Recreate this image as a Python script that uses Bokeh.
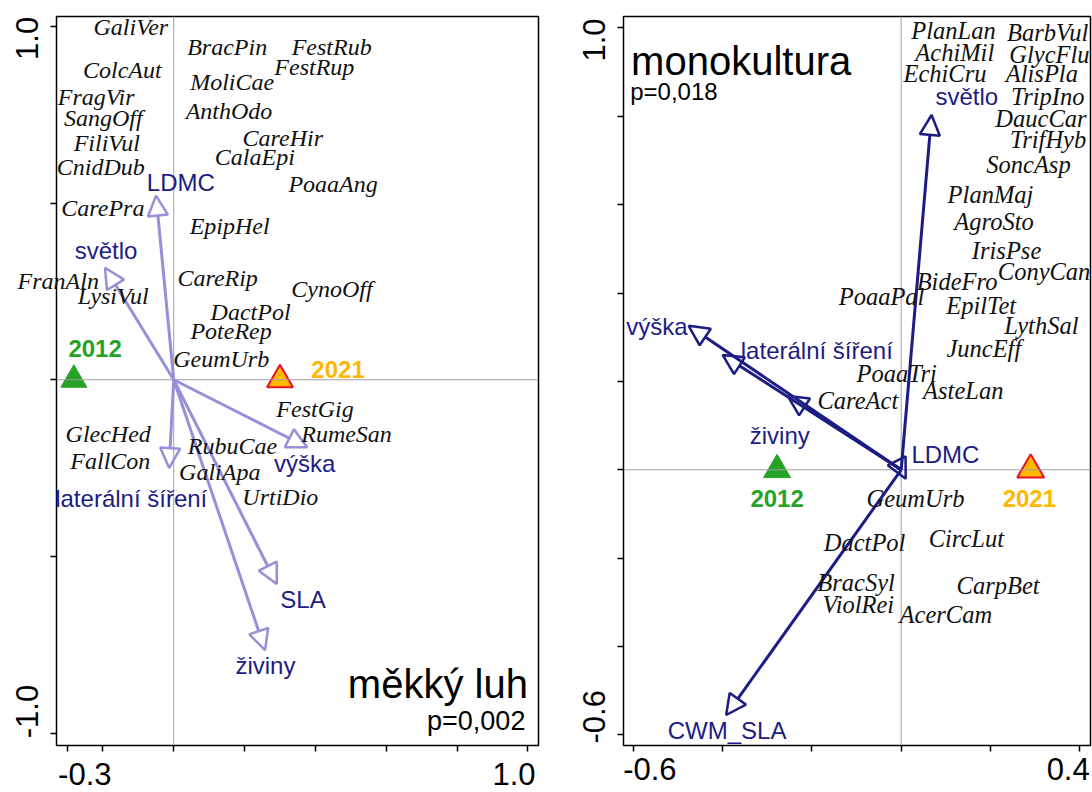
from bokeh.plotting import figure
from bokeh.models import (ColumnDataSource, Label, Arrow, NormalHead,
                          Span, FixedTicker, Range1d)
from bokeh.layouts import row
from bokeh.embed import file_html
from bokeh.resources import INLINE
from bokeh.core.properties import value

# ---------------- Left panel: "měkký luh" ----------------
L_species = ["GaliVer", "BracPin", "FestRub", "FestRup", "ColcAut", "MoliCae",
             "FragVir", "AnthOdo", "SangOff", "CareHir", "FiliVul", "CalaEpi",
             "CnidDub", "PoaaAng", "CarePra", "EpipHel", "CareRip", "FranAln",
             "CynoOff", "LysiVul", "DactPol", "PoteRep", "GeumUrb", "FestGig",
             "RumeSan", "GlecHed", "RubuCae", "FallCon", "GaliApa", "UrtiDio"]
L_species_x = [-0.121, 0.151, 0.446, 0.397, -0.145, 0.165,
               -0.219, 0.156, -0.199, 0.308, -0.189, 0.229,
               -0.206, 0.450, -0.200, 0.158, 0.124, -0.326,
               0.447, -0.171, 0.217, 0.162, 0.134, 0.399,
               0.488, -0.185, 0.166, -0.179, 0.130, 0.301]
L_species_y = [0.997, 0.943, 0.943, 0.886, 0.877, 0.843,
               0.801, 0.761, 0.742, 0.685, 0.671, 0.631,
               0.603, 0.554, 0.487, 0.436, 0.289, 0.280,
               0.257, 0.238, 0.192, 0.139, 0.060, -0.083,
               -0.154, -0.154, -0.187, -0.229, -0.262, -0.333]

L_traits = ["LDMC", "světlo", "laterální šíření", "výška", "SLA", "živiny"]
L_trait_x = [-0.050, -0.194, -0.013, 0.377, 0.291, 0.258]
L_trait_y = [0.521, 0.317, -0.250, -0.191, -0.578, -0.765]
L_trait_label_x = [0.020, -0.191, -0.120, 0.370, 0.365, 0.259]
L_trait_label_y = [0.558, 0.365, -0.335, -0.237, -0.623, -0.809]

L_years = ["2012", "2021"]
L_year_x = [-0.282, 0.300]
L_year_y = [0.0, 0.0]
L_year_label_x = [-0.222, 0.464]
L_year_label_y = [0.089, 0.030]

L_xticks = [-0.3, -0.2, 0.0, 0.2, 0.4, 0.6, 0.8, 1.0]
L_yticks = [-1.0, -0.5, 0.0, 0.5, 1.0]
L_xlabels = {"-0.3": -0.251, "1.0": 0.961}
L_ylabels = {"1.0": 0.966, "-1.0": -0.939}
L_title = "měkký luh"
L_pvalue = "p=0,002"

# ---------------- Right panel: "monokultura" ----------------
R_species = ["PlanLan", "BarbVul", "AchiMil", "GlycFlu", "EchiCru", "AlisPla",
             "TripIno", "DaucCar", "TrifHyb", "SoncAsp", "PlanMaj", "AgroSto",
             "IrisPse", "BideFro", "ConyCan", "PoaaPal", "EpilTet", "LythSal",
             "JuncEff", "PoaaTri", "AsteLan", "CareAct", "GeumUrb", "DactPol",
             "CircLut", "BracSyl", "CarpBet", "ViolRei", "AcerCam"]
R_species_x = [0.117, 0.328, 0.120, 0.332, 0.098, 0.315,
               0.328, 0.313, 0.329, 0.285, 0.200, 0.208,
               0.236, 0.125, 0.320, -0.044, 0.179, 0.314,
               0.185, -0.010, 0.139, -0.097, 0.032, -0.082,
               0.146, -0.101, 0.217, -0.096, 0.100]
R_species_y = [0.995, 0.990, 0.945, 0.941, 0.897, 0.897,
               0.844, 0.795, 0.747, 0.691, 0.623, 0.563,
               0.496, 0.426, 0.448, 0.393, 0.373, 0.326,
               0.275, 0.217, 0.180, 0.156, -0.065, -0.165,
               -0.155, -0.254, -0.261, -0.304, -0.327]

R_traits = ["světlo", "výška", "laterální šíření", "živiny", "LDMC", "CWM_SLA"]
R_trait_x = [0.068, -0.476, -0.400, -0.254, 0.010, -0.392]
R_trait_y = [0.803, 0.326, 0.260, 0.167, -0.020, -0.555]
R_trait_label_x = [0.147, -0.547, -0.189, -0.272, 0.099, -0.390]
R_trait_label_y = [0.844, 0.324, 0.269, 0.077, 0.035, -0.589]

R_years = ["2012", "2021"]
R_year_x = [-0.278, 0.290]
R_year_y = [0.0, 0.0]
R_year_label_x = [-0.278, 0.287]
R_year_label_y = [-0.065, -0.065]

R_xticks = [-0.6, -0.4, -0.2, 0.0, 0.2, 0.4]
R_yticks = [-0.6, -0.4, -0.2, 0.0, 0.2, 0.4, 0.6, 0.8, 1.0]
R_xlabels = {"-0.6": -0.563, "0.4": 0.374}
R_ylabels = {"1.0": 0.973, "-0.6": -0.559}
R_title = "monokultura"
R_pvalue = "p=0,018"

NAVY = "#1c1c84"
LILAC = "#9590d8"
GREEN = "#26a326"
GOLD = "#ffb700"
RED = "#e3122b"


def style_axes(p, xticks, yticks, xlabels, ylabels, xstandoff, ystandoff):
    p.xaxis.ticker = FixedTicker(ticks=list(xlabels.values()), minor_ticks=xticks)
    p.yaxis.ticker = FixedTicker(ticks=list(ylabels.values()), minor_ticks=yticks)
    p.xaxis.major_label_overrides = {v: k for k, v in xlabels.items()}
    p.yaxis.major_label_overrides = {v: k for k, v in ylabels.items()}
    for ax, so in ((p.xaxis, xstandoff), (p.yaxis, ystandoff)):
        ax.major_tick_out = 0
        ax.major_tick_in = 0
        ax.major_tick_line_color = None
        ax.minor_tick_out = 6
        ax.minor_tick_in = 0
        ax.minor_tick_line_color = "black"
        ax.minor_tick_line_width = 1.5
        ax.axis_line_color = None
        ax.major_label_text_font = "Liberation Sans"
        ax.major_label_text_font_size = "31px"
        ax.major_label_text_color = "black"
        ax.major_label_standoff = so
    p.yaxis.major_label_orientation = "vertical"
    p.xgrid.visible = False
    p.ygrid.visible = False
    p.outline_line_color = "black"
    p.outline_line_width = 1.5


def add_texts(p, xs, ys, texts, font, size, color, style="normal"):
    colors = color if isinstance(color, list) else [color] * len(texts)
    src = ColumnDataSource(dict(x=xs, y=ys, t=texts, c=colors))
    # overlay level so that labels may run past the plot box, as in the original
    p.text(x="x", y="y", text="t", source=src, text_font=value(font),
           text_font_size=value(size), text_font_style=style, text_color="c",
           text_align="center", text_baseline="middle", level="overlay")


def make_panel(width, mb_left, mb_right, mb_bottom, xr, yr,
               species, sx, sy, sp_size,
               traits, tx, ty, tlx, tly, arrow_color,
               years, yx, yy, ylx, yly, tri_size,
               xticks, yticks, xlabels, ylabels, xstandoff):
    p = figure(width=width, height=792, output_backend="svg", toolbar_location=None,
               x_range=Range1d(*xr), y_range=Range1d(*yr),
               min_border_left=mb_left, min_border_right=mb_right,
               min_border_top=16, min_border_bottom=mb_bottom,
               background_fill_color="white", border_fill_color="white")
    style_axes(p, xticks, yticks, xlabels, ylabels, xstandoff, 12)

    p.add_layout(Span(location=0, dimension="height", line_color="#a0a0a0", line_width=1))
    p.add_layout(Span(location=0, dimension="width", line_color="#a0a0a0", line_width=1))

    # arrows (trait vectors)
    asrc = ColumnDataSource(dict(x0=[0.0] * len(traits), y0=[0.0] * len(traits),
                                 x1=tx, y1=ty))
    p.add_layout(Arrow(end=NormalHead(size=20, fill_color=None, line_color=arrow_color,
                                      line_width=2.5),
                       x_start="x0", y_start="y0", x_end="x1", y_end="y1",
                       source=asrc, line_color=arrow_color, line_width=3))

    # species labels
    add_texts(p, sx, sy, species, "Liberation Serif", sp_size, "#111111", "italic")
    # trait labels
    add_texts(p, tlx, tly, traits, "Liberation Sans", "24px", NAVY)

    # sampling years (centroids)
    ysrc = ColumnDataSource(dict(x=yx, y=yy, fill=[GREEN, GOLD], line=[GREEN, RED],
                                 lw=[1.0, 2.0]))
    p.scatter(x="x", y="y", source=ysrc, marker="triangle", size=tri_size,
              fill_color="fill", line_color="line", line_width="lw")
    add_texts(p, ylx, yly, years, "Liberation Sans", "24px", [GREEN, GOLD], "bold")
    return p


left = make_panel(560, 56, 22, 47, (-0.331, 1.030), (-1.035, 1.028),
                  L_species, L_species_x, L_species_y, "24px",
                  L_traits, L_trait_x, L_trait_y, L_trait_label_x, L_trait_label_y, LILAC,
                  L_years, L_year_x, L_year_y, L_year_label_x, L_year_label_y, 26,
                  L_xticks, L_yticks, L_xlabels, L_ylabels, 11)
left.add_layout(Label(x=1.0, y=-0.861, text=L_title, text_font="Liberation Sans",
                      text_font_size="40px", text_color="black",
                      text_align="right", text_baseline="alphabetic"))
left.add_layout(Label(x=0.993, y=-0.965, text=L_pvalue, text_font="Liberation Sans",
                      text_font_size="27px", text_color="black",
                      text_align="right", text_baseline="alphabetic"))

right = make_panel(532, 63, 2, 41, (-0.622, 0.424), (-0.624, 1.026),
                   R_species, R_species_x, R_species_y, "24.5px",
                   R_traits, R_trait_x, R_trait_y, R_trait_label_x, R_trait_label_y, NAVY,
                   R_years, R_year_x, R_year_y, R_year_label_x, R_year_label_y, 27,
                   R_xticks, R_yticks, R_xlabels, R_ylabels, 6)
right.add_layout(Label(x=-0.605, y=0.925, text=R_title, text_font="Liberation Sans",
                       text_font_size="40px", text_color="black",
                       text_align="left", text_baseline="alphabetic"))
right.add_layout(Label(x=-0.607, y=0.857, text=R_pvalue, text_font="Liberation Sans",
                       text_font_size="24px", text_color="black",
                       text_align="left", text_baseline="alphabetic"))

layout = row(left, right)
open("out.html", "w").write(file_html(layout, INLINE))
